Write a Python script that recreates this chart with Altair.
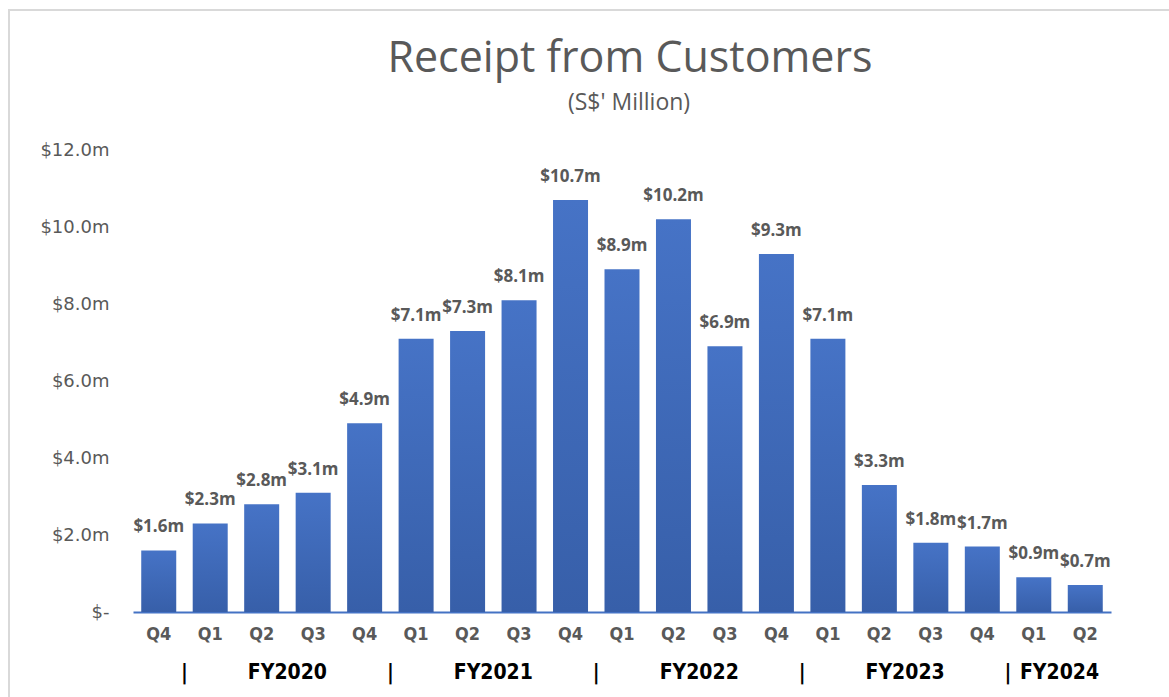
import altair as alt
import pandas as pd

quarters = ["Q4", "Q1", "Q2", "Q3", "Q4", "Q1", "Q2", "Q3", "Q4", "Q1",
            "Q2", "Q3", "Q4", "Q1", "Q2", "Q3", "Q4", "Q1", "Q2"]
fiscal_years = ["FY2019",
                "FY2020", "FY2020", "FY2020", "FY2020",
                "FY2021", "FY2021", "FY2021", "FY2021",
                "FY2022", "FY2022", "FY2022", "FY2022",
                "FY2023", "FY2023", "FY2023", "FY2023",
                "FY2024", "FY2024"]
values = [1.6, 2.3, 2.8, 3.1, 4.9, 7.1, 7.3, 8.1, 10.7, 8.9,
          10.2, 6.9, 9.3, 7.1, 3.3, 1.8, 1.7, 0.9, 0.7]
labelled_years = ["FY2020", "FY2021", "FY2022", "FY2023", "FY2024"]
y_ticks = [0, 2, 4, 6, 8, 10, 12]
title_text = "Receipt from Customers"
subtitle_text = "(S$' Million)"

W, H = 978, 462
GREY = "#595959"
FONT = "Open Sans"
WIDE = "DejaVu Sans"
COND = "'Liberation Sans Narrow', 'Arial Narrow', 'DejaVu Sans Condensed', sans-serif"

df = pd.DataFrame({
    "idx": range(len(values)),
    "quarter": quarters,
    "fy": fiscal_years,
    "value": values,
})
df["key"] = df["fy"] + "-" + df["quarter"]
df["label"] = df["value"].map(lambda v: f"${v:.1f}m")
order = list(df["key"])

# fiscal-year group labels and separators derived from the data
fy_rows = []
for fy in labelled_years:
    ids = df.loc[df["fy"] == fy, "idx"]
    fy_rows.append({"pos": ids.mean(), "text": fy})
    fy_rows.append({"pos": ids.min() - 0.5, "text": "|"})
df_fy = pd.DataFrame(fy_rows)

x_band = alt.X(
    "key:N", sort=order,
    scale=alt.Scale(paddingInner=0.32, paddingOuter=0.16),
    axis=alt.Axis(
        title=None, labelAngle=0, ticks=False,
        labelExpr="split(datum.label, '-')[1]",
        labelFont=COND, labelFontSize=18, labelFontWeight="bold",
        labelColor=GREY, labelPadding=13,
        domainColor="#4472C4", domainWidth=2,
    ),
)
y_enc = alt.Y(
    "value:Q",
    scale=alt.Scale(domain=[0, 12], nice=False),
    axis=alt.Axis(
        title=None, values=y_ticks, grid=False, ticks=False, domain=False,
        labelExpr="datum.value == 0 ? '$-' : '$' + format(datum.value, '.1f') + 'm'",
        labelFont=WIDE, labelFontSize=18, labelColor=GREY, labelPadding=24,
    ),
)

bars = alt.Chart(df).mark_bar(
    color=alt.Gradient(
        gradient="linear",
        stops=[alt.GradientStop(color="#4673C6", offset=0),
               alt.GradientStop(color="#375FA9", offset=1)],
        x1=0, x2=0, y1=0, y2=1,
    )
).encode(x=x_band, y=y_enc)

labels = alt.Chart(df).mark_text(
    font=FONT, fontSize=17, fontWeight="bold", color=GREY,
    baseline="middle", dy=-23,
).encode(x=alt.X("key:N", sort=order), y="value:Q", text="label:N")

fy_text = alt.Chart(df_fy).mark_text(
    font=COND, fontSize=21, fontWeight="bold", color="#000000",
    baseline="middle",
).encode(
    x=alt.X("pos:Q", scale=alt.Scale(domain=[-0.5, len(values) - 0.5], nice=False, zero=False),
            axis=None),
    y=alt.value(H + 61),
    text="text:N",
)

one = df.head(1)
frame = alt.Chart(one).mark_rect(
    fill=None, stroke="#d9d9d9", strokeWidth=2,
).encode(
    x=alt.value(-124), x2=alt.value(W + 200),
    y=alt.value(-140), y2=alt.value(H + 200),
)

title = alt.Chart(one).mark_text(
    text=title_text, font=FONT, fontSize=43, color=GREY,
    align="center", baseline="alphabetic",
).encode(x=alt.value(W / 2 + 8), y=alt.value(-78))

subtitle = alt.Chart(one).mark_text(
    text=subtitle_text, font=FONT, fontSize=23, color=GREY,
    align="center", baseline="alphabetic",
).encode(x=alt.value(W / 2 + 7), y=alt.value(-40))

main = alt.layer(bars, labels)

chart = alt.layer(frame, title, subtitle, main, fy_text).resolve_scale(x="independent").properties(
    width=W, height=H,
    background="white",
    autosize=alt.AutoSizeParams(type="none"),
    padding={"left": 133, "top": 150, "right": 58, "bottom": 85},
).configure_view(strokeWidth=0, stroke="transparent")

chart.save("out.html", embed_options={"renderer": "svg", "actions": False})
